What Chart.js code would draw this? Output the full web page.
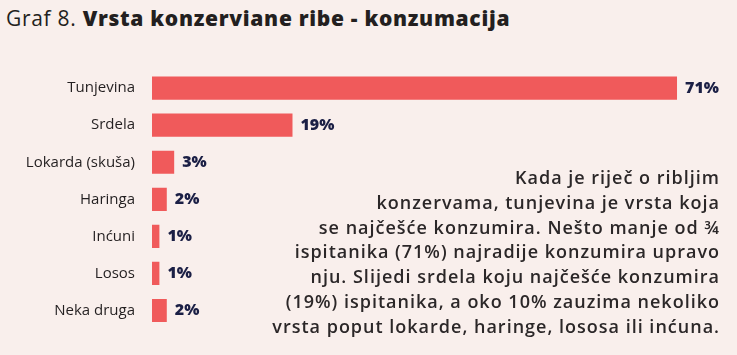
<!DOCTYPE html>
<html>
<head>
<meta charset="utf-8">
<script src="https://cdn.jsdelivr.net/npm/chart.js@4/dist/chart.umd.min.js"></script>
<style>
  html, body { margin: 0; padding: 0; }
  body { width: 737px; height: 355px; background: #f9efec; position: relative; overflow: hidden; font-family: "Open Sans", sans-serif; }
  #title { position: absolute; left: 6px; top: 4px; font-size: 21px; color: #231f20; white-space: nowrap; letter-spacing: 0.7px; }
  #title b { font-weight: 800; }
  #wrap { position: absolute; left: 0; top: 0; width: 737px; height: 355px; }
  #note { position: absolute; right: 17px; top: 165px; text-align: right; font-size: 18px; line-height: 24.8px; font-weight: 600; color: #2b2728; white-space: nowrap; letter-spacing: 1px; }
</style>
</head>
<body>
<div id="title">Graf 8. <b>Vrsta konzerviane ribe - konzumacija</b></div>
<div id="wrap"><canvas id="c" width="737" height="355"></canvas></div>
<div id="note">Kada je riječ o ribljim<br>konzervama, tunjevina je vrsta koja<br>se najčešće konzumira. Nešto manje od ¾<br>ispitanika (71%) najradije konzumira upravo<br>nju. Slijedi srdela koju najčešće konzumira<br>(19%) ispitanika, a oko 10% zauzima nekoliko<br>vrsta poput lokarde, haringe, lososa ili inćuna.</div>
<script>
const categories = ["Tunjevina", "Srdela", "Lokarda (skuša)", "Haringa", "Inćuni", "Losos", "Neka druga"];
const shares = [71, 19, 3, 2, 1, 1, 2];
const valueLabels = ["71%", "19%", "3%", "2%", "1%", "1%", "2%"];

const valueLabelPlugin = {
  id: 'valueLabels',
  afterDatasetsDraw(chart) {
    const ctx = chart.ctx;
    const meta = chart.getDatasetMeta(0);
    ctx.save();
    ctx.font = '800 16px "Open Sans"';
    ctx.fillStyle = '#1b1f45';
    ctx.textBaseline = 'middle';
    ctx.textAlign = 'left';
    meta.data.forEach((bar, i) => {
      ctx.fillText(valueLabels[i], bar.x + 8, bar.y);
    });
    ctx.restore();
  }
};

new Chart(document.getElementById('c'), {
  type: 'bar',
  data: {
    labels: categories,
    datasets: [{
      data: shares,
      backgroundColor: '#f05a5b',
      borderWidth: 0,
      barPercentage: 0.625,
      categoryPercentage: 1.0
    }]
  },
  options: {
    indexAxis: 'y',
    responsive: false,
    animation: false,
    layout: { padding: { top: 69.6, bottom: 10.6, right: 30.4, left: 0 } },
    plugins: { legend: { display: false }, tooltip: { enabled: false } },
    scales: {
      x: { display: false, min: 0, max: 75 },
      y: {
        afterFit(scale) { scale.width = 152; },
        grid: { display: false, drawTicks: false },
        border: { display: false },
        ticks: { padding: 17, color: '#231f20', font: { family: 'Open Sans', size: 15, weight: '500' } }
      }
    }
  },
  plugins: [valueLabelPlugin]
});
</script>
</body>
</html>
